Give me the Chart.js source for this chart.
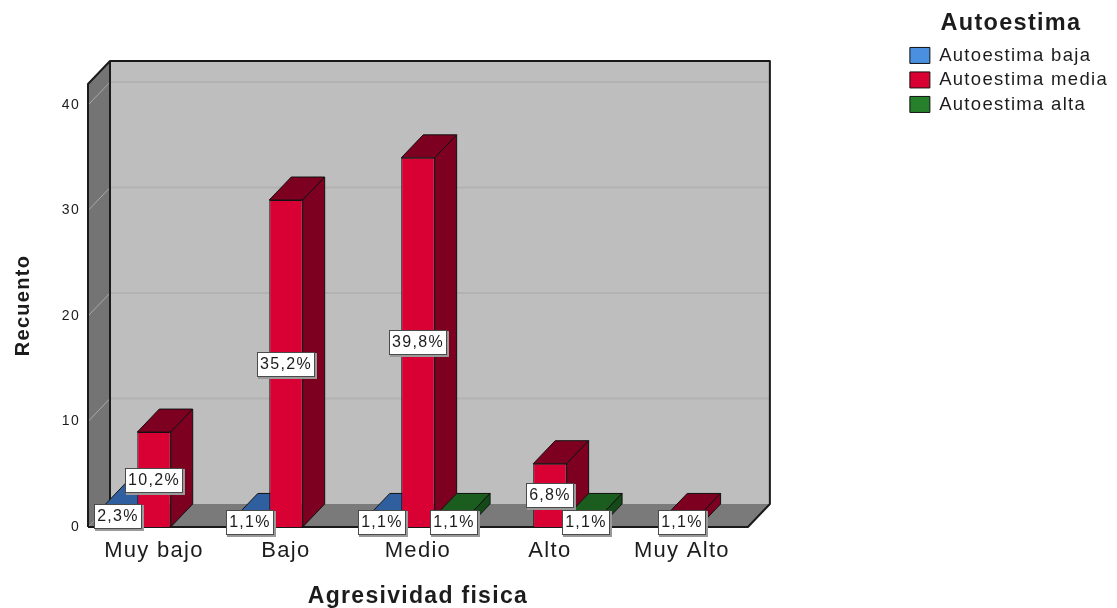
<!DOCTYPE html>
<html>
<head>
<meta charset="utf-8">
<style>
  html, body { margin: 0; padding: 0; background: #fff; }
  canvas { display: block; }
</style>
<script src="https://cdn.jsdelivr.net/npm/chart.js@4/dist/chart.umd.min.js"></script>
</head>
<body>
<canvas id="barChart" width="1117" height="608"></canvas>
<script>
const categories = ['Muy bajo', 'Bajo', 'Medio', 'Alto', 'Muy Alto'];
const seriesNames = ['Autoestima baja', 'Autoestima media', 'Autoestima alta'];
const autoestimaBaja = [2, 1, 1, null, null];
const autoestimaMedia = [9, 31, 35, 6, 1];
const autoestimaAlta = [null, null, 1, 1, null];
const labelsBaja = ['2,3%', '1,1%', '1,1%', null, null];
const labelsMedia = ['10,2%', '35,2%', '39,8%', '6,8%', '1,1%'];
const labelsAlta = [null, null, '1,1%', '1,1%', null];
const yTicks = [0, 10, 20, 30, 40];

const FONT = '"Liberation Sans", Arial, sans-serif';
const TEXT = '#1c1c1c';
// how far the fake 3D depth goes
const DEPTH_X = 22;
const DEPTH_Y = 23;

const faceColors = [
    { top: '#2f5f9e', side: '#264f85' },
    { top: '#7e0020', side: '#7e0020' },
    { top: '#1b5c1f', side: '#144a18' }
];
const percentLabels = [labelsBaja, labelsMedia, labelsAlta];
const labelShift = [-3, 0, 3];

function poly(ctx, pts, fill, stroke, lw) {
    ctx.beginPath();
    pts.forEach((p, i) => i ? ctx.lineTo(p[0], p[1]) : ctx.moveTo(p[0], p[1]));
    ctx.closePath();
    if (fill) { ctx.fillStyle = fill; ctx.fill(); }
    if (stroke) { ctx.strokeStyle = stroke; ctx.lineWidth = lw || 1; ctx.stroke(); }
}

// canvas text is a bit wider in the original
const spacing = {
    id: 'spacing',
    beforeUpdate: chart => { chart.ctx.letterSpacing = '1.3px'; },
    beforeDraw: chart => { chart.ctx.letterSpacing = '1.3px'; }
};

const walls = {
    id: 'walls',
    beforeDatasetsDraw: chart => {
        const ctx = chart.ctx;
        const { left, right, top, bottom } = chart.chartArea;
        const dx = DEPTH_X, dy = DEPTH_Y;
        ctx.save();
        ctx.lineJoin = 'round';
        // back wall
        poly(ctx, [[left + dx, top - dy], [right + dx, top - dy], [right + dx, bottom - dy], [left + dx, bottom - dy]], '#bebebe');
        // floor and left wall
        poly(ctx, [[left, bottom], [right, bottom], [right + dx, bottom - dy], [left + dx, bottom - dy]], '#7a7a7a');
        poly(ctx, [[left, bottom], [left + dx, bottom - dy], [left + dx, top - dy], [left, top]], '#747474');
        // grid lines, wall part and back part
        yTicks.slice(1).forEach(v => {
            const y = chart.scales.y.getPixelForValue(v);
            ctx.lineWidth = 2;
            ctx.strokeStyle = '#b2b2b2';
            ctx.beginPath();
            ctx.moveTo(left + dx, y - dy);
            ctx.lineTo(right + dx, y - dy);
            ctx.stroke();
            ctx.lineWidth = 1;
            ctx.strokeStyle = '#a9a9a9';
            ctx.beginPath();
            ctx.moveTo(left, y);
            ctx.lineTo(left + dx, y - dy);
            ctx.stroke();
        });
        // edges
        ctx.strokeStyle = '#1a1a1a';
        ctx.lineWidth = 2;
        ctx.beginPath();
        ctx.moveTo(left, bottom);
        ctx.lineTo(left, top);
        ctx.lineTo(left + dx, top - dy);
        ctx.lineTo(right + dx, top - dy);
        ctx.lineTo(right + dx, bottom - dy);
        ctx.lineTo(right, bottom);
        ctx.lineTo(left, bottom);
        ctx.moveTo(left + dx, top - dy);
        ctx.lineTo(left + dx, bottom - dy);
        ctx.stroke();
        ctx.restore();

        // top and side faces of the bars, front faces come from chart.js
        ctx.save();
        chart.data.labels.forEach((c, i) => {
            chart.data.datasets.forEach((ds, d) => {
                if (ds.data[i] == null) return;
                const bar = chart.getDatasetMeta(d).data[i];
                const l = bar.x - bar.width / 2, r = bar.x + bar.width / 2;
                poly(ctx, [[l, bar.y], [r, bar.y], [r + dx, bar.y - dy], [l + dx, bar.y - dy]], faceColors[d].top, '#111', 1);
                poly(ctx, [[r, bar.y], [r + dx, bar.y - dy], [r + dx, bar.base - dy], [r, bar.base]], faceColors[d].side, '#111', 1);
            });
        });
        ctx.restore();
    }
};

const percentBoxes = {
    id: 'percentBoxes',
    afterDatasetsDraw: chart => {
        const ctx = chart.ctx;
        ctx.save();
        ctx.font = '16px ' + FONT;
        ctx.textAlign = 'center';
        ctx.textBaseline = 'middle';
        chart.data.datasets.forEach((ds, d) => {
            ds.data.forEach((v, i) => {
                if (v == null) return;
                const bar = chart.getDatasetMeta(d).data[i];
                const text = percentLabels[d][i];
                const w = Math.round(ctx.measureText(text).width) + 6;
                const h = 25;
                const cx = Math.round(bar.x + labelShift[d]);
                const cy = Math.round((bar.y + bar.base) / 2);
                const x0 = Math.round(cx - w / 2);
                const y0 = cy - 12;
                ctx.fillStyle = '#9a9a9a';
                ctx.fillRect(x0 + 1, y0 + 1, w + 1, h + 1);
                ctx.fillStyle = '#fff';
                ctx.strokeStyle = '#4a4a4a';
                ctx.lineWidth = 1;
                ctx.fillRect(x0, y0, w, h);
                ctx.strokeRect(x0 + 0.5, y0 + 0.5, w - 1, h - 1);
                ctx.fillStyle = TEXT;
                ctx.fillText(text, x0 + w / 2, cy + 1);
            });
        });
        ctx.restore();
    }
};

let barChartObj = document.getElementById('barChart').getContext('2d');

new Chart(barChartObj, {
    type: 'bar',
    data: {
        labels: categories,
        datasets: [
            { label: seriesNames[0], data: autoestimaBaja, backgroundColor: '#4a8fe0' },
            { label: seriesNames[1], data: autoestimaMedia, backgroundColor: '#d90033' },
            { label: seriesNames[2], data: autoestimaAlta, backgroundColor: '#267f2b' }
        ]
    },
    plugins: [spacing, walls, percentBoxes],
    options: {
        responsive: false,
        animation: false,
        layout: { padding: { right: -1 } },
        datasets: {
            bar: { categoryPercentage: 0.76, barPercentage: 1, borderColor: '#111', borderWidth: 1 }
        },
        scales: {
            x: {
                grid: { display: false },
                border: { display: false },
                ticks: { color: TEXT, font: { family: FONT, size: 22 }, padding: 3, maxRotation: 0, autoSkip: false },
                title: { display: true, text: 'Agresividad fisica', color: TEXT, font: { family: FONT, size: 23, weight: 'bold' }, padding: { top: 0, bottom: -2 } },
                afterFit: s => { s.height = 81; }
            },
            y: {
                min: 0,
                max: 42,
                grid: { display: false },
                border: { display: false },
                ticks: { stepSize: 10, includeBounds: false, color: TEXT, font: { family: FONT, size: 14 }, padding: 0 },
                title: { display: true, text: 'Recuento', color: TEXT, font: { family: FONT, size: 20, weight: 'bold' }, padding: { top: 11, bottom: 0 } },
                afterFit: s => { s.width = 88; }
            },
            // empty axes, only used to keep room above and beside the plot
            topGap: { axis: 'x', type: 'linear', position: 'top', display: false, afterFit: s => { s.height = 84; } },
            rightGap: { axis: 'y', type: 'linear', position: 'right', display: false, afterFit: s => { s.width = 156; } }
        },
        plugins: {
            tooltip: { enabled: false },
            legend: {
                position: 'right',
                align: 'start',
                title: { display: true, text: 'Autoestima', color: TEXT, font: { family: FONT, size: 23.5, weight: 'bold' }, padding: { top: 12, bottom: 0 } },
                labels: { color: TEXT, font: { family: FONT, size: 18.5 }, boxWidth: 20, boxHeight: 16, padding: 6 }
            }
        }
    }
});
</script>
</body>
</html>
